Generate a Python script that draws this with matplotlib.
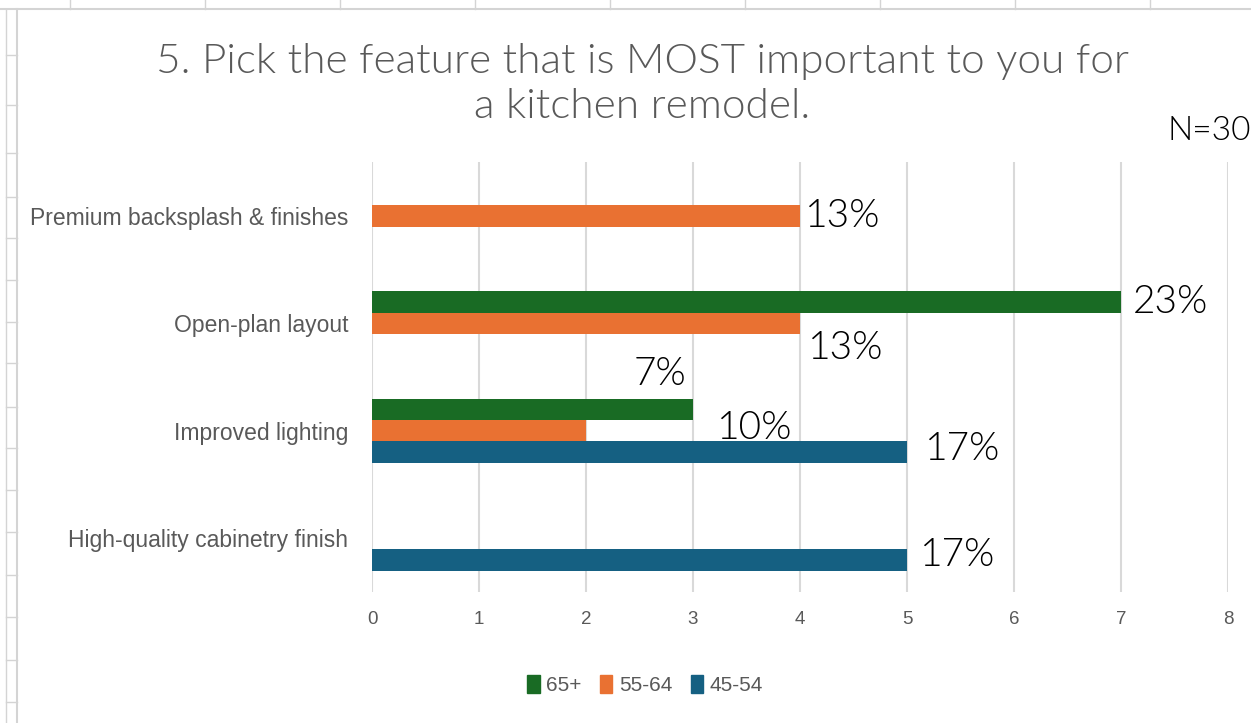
import numpy as np
import matplotlib
matplotlib.use("Agg")
import matplotlib.pyplot as plt
from matplotlib.lines import Line2D
from matplotlib.patches import Patch

# data (counts, N=30)
categories = ["High-quality cabinetry finish", "Improved lighting",
              "Open-plan layout", "Premium backsplash & finishes"]
series = ["65+", "55-64", "45-54"]
vals_65 = [0, 3, 7, 0]
vals_55 = [0, 2, 4, 4]
vals_45 = [5, 5, 0, 0]
n_total = 30

colors = {"65+": "#196B24", "55-64": "#E97132", "45-54": "#156082"}
offsets = {"65+": 0.2, "55-64": 0.0, "45-54": -0.2}

# label nudges in pixels (dx right, dy up) where excel labels were dragged
nudge = {("Open-plan layout", "65+"): (12, 0),
         ("Open-plan layout", "55-64"): (8, -25),
         ("Improved lighting", "65+"): (24, -19),
         ("Improved lighting", "55-64"): (48, 57),
         ("Improved lighting", "45-54"): (18, 3),
         ("High-quality cabinetry finish", "45-54"): (13, 5)}

W, H = 1251, 723
fig = plt.figure(figsize=(W / 100, H / 100), dpi=100)
fig.patch.set_facecolor("white")

gray = "#595959"
narrow = ["Liberation Sans", "DejaVu Sans"]
geo = ["Lato", "DejaVu Sans"]

# spreadsheet bits behind the chart
cell = "#D4D4D4"
fig.add_artist(Line2D([0, 1], [1 - 9 / H, 1 - 9 / H], color=cell, lw=1.5))
fig.add_artist(Line2D([17 / W, 17 / W], [0, 1 - 9 / H], color=cell, lw=1.5))
fig.add_artist(Line2D([6 / W, 6 / W], [0, 1 - 9 / H], color=cell, lw=1.0))
for cx in [70, 205, 340, 475, 610, 745, 880, 1015, 1150]:
    fig.add_artist(Line2D([cx / W, cx / W], [1 - 9 / H, 1], color=cell, lw=1.0))
for ry in [55, 105, 153, 197, 238, 280, 322, 363, 407, 448, 490, 532, 575, 617, 660, 702]:
    fig.add_artist(Line2D([6 / W, 17 / W], [1 - ry / H, 1 - ry / H], color=cell, lw=1.0))

ax = fig.add_axes([372 / W, 1 - 592 / H, 856 / W, 430 / H])
y = np.arange(len(categories))
data = {"65+": vals_65, "55-64": vals_55, "45-54": vals_45}

for s in series:
    v = np.array(data[s])
    ax.barh(y + offsets[s], v, height=0.2, color=colors[s], zorder=3)
    for i, c in enumerate(categories):
        if v[i] == 0:
            continue
        dx, dy = nudge.get((c, s), (5, 0))
        pct = f"{round(100 * v[i] / n_total)}%"
        ax.annotate(pct, (v[i], y[i] + offsets[s]), xytext=(dx * 0.72, dy * 0.72),
                    textcoords="offset points", ha="left", va="center",
                    fontsize=28, family=geo, weight=300, color="black", zorder=4)

ax.set_xlim(0, 8)
ax.set_ylim(-0.5, 3.5)
ax.set_xticks(range(9))
ax.set_yticks(y)
ax.set_yticklabels(categories)
ax.grid(axis="x", color="#D9D9D9", lw=1.5, zorder=0)
for sp in ax.spines.values():
    sp.set_visible(False)
ax.tick_params(axis="y", length=0, pad=17, labelsize=16.5, labelcolor=gray)
ax.tick_params(axis="x", length=0, pad=14, labelsize=13.5, labelcolor=gray)
for lab in ax.get_xticklabels() + ax.get_yticklabels():
    lab.set_family(narrow)

fig.text(642 / W, 1 - 84 / H, "5. Pick the feature that is MOST important to you for\na kitchen remodel.",
         ha="center", va="center", fontsize=30.5, color=gray, family=geo, weight=300,
         linespacing=1.3)
fig.text(1251 / W, 1 - 131 / H, "N=30", ha="right", va="center", fontsize=24,
         color="black", family=geo, weight=300)

handles = [Patch(color=colors[s], label=s) for s in series]
fig.legend(handles=handles, loc="center", bbox_to_anchor=(645 / W, 1 - 685 / H),
           ncol=3, frameon=False, handlelength=0.6, handleheight=1.0,
           handletextpad=0.3, columnspacing=0.9,
           prop={"family": narrow, "size": 15}, labelcolor=gray)

fig.savefig("out.png", dpi=100, facecolor="white")
